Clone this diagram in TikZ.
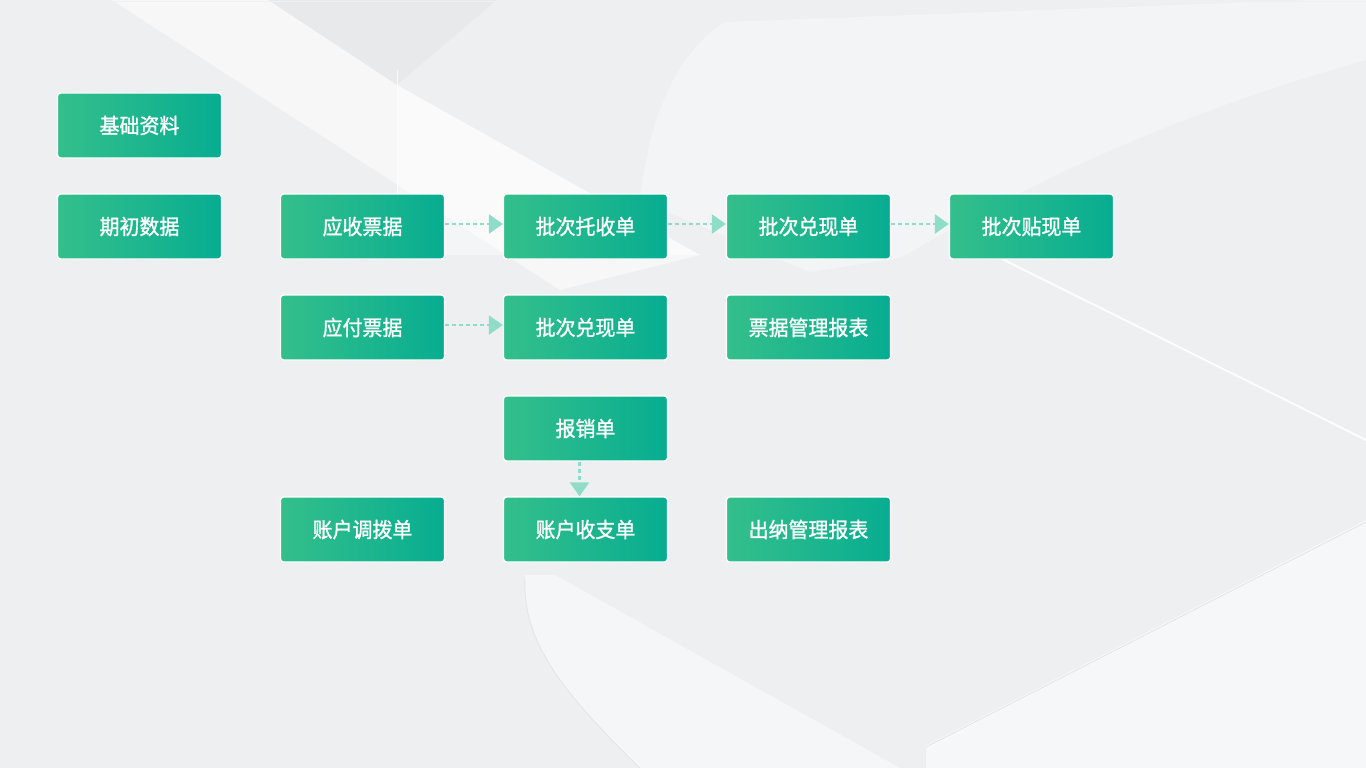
\documentclass[tikz,border=0pt]{standalone}
\usepackage{fontspec}
\newfontfamily\cjk{Noto Sans CJK SC}[FakeBold=1.2,FakeStretch=0.95]
\usetikzlibrary{arrows.meta}
\definecolor{bgc}{HTML}{EEEFF1}
\definecolor{gl}{HTML}{34BF8B}
\definecolor{gr}{HTML}{07AD91}
\definecolor{arr}{HTML}{8FDCC8}
\tikzset{
  box/.style={rectangle, rounded corners=3pt, draw=white, line width=1.4pt,
    left color=gl, right color=gr, minimum width=164pt, minimum height=65pt,
    inner sep=0pt, text=white, font=\cjk\fontsize{21}{24}\selectfont},
  flow/.style={arr, line width=2.6pt, dash pattern=on 4pt off 3pt,
    -{Triangle[length=14pt,width=19pt,fill=arr]}, shorten >=0pt},
}
\begin{document}
\begin{tikzpicture}[x=1pt,y=-1pt]
\useasboundingbox (0,0) rectangle (1366,768);
% background
\fill[bgc] (0,0) rectangle (1366,768);
\fill[white,opacity=0.55] (112,0) -- (268,0) -- (397,85) -- (700,255) -- (560,290) -- cycle;
\fill[black,opacity=0.025] (268,0) -- (497,0) -- (397,85) -- cycle;
\fill[white,opacity=0.4] (397,85) -- (700,255) -- (397,255) -- cycle;
\draw[white,line width=1pt,opacity=0.8] (397,70) -- (397,255);
\fill[white,opacity=0.35] (640,200) .. controls (650,110) and (680,50) .. (725,22) -- (1310,0) -- (1366,0) -- (1366,60) .. controls (1150,120) and (1000,200) .. (900,258) -- (810,272) -- cycle;
\draw[white,line width=2pt,opacity=0.9] (1000,258) -- (1366,440);
\fill[white,opacity=0.45] (525,575) .. controls (522,640) and (560,690) .. (640,768) -- (900,768) -- (555,575) -- cycle;
\draw[black!10,line width=0.8pt] (525,578) .. controls (522,640) and (560,690) .. (640,768);
\fill[white,opacity=0.5] (925,746) -- (1366,520) -- (1366,768) -- (925,768) -- cycle;
\draw[black!12,line width=0.6pt] (926,747) -- (1366,522);
\draw[black!8,line width=0.6pt] (925,747) -- (925,768);
\draw[black!6,line width=0.6pt] (0,1) -- (1366,1);
% boxes
\node[box] (jczl) at (139.5,125.5) {基础资料};
\node[box] (qcsj) at (139.5,226.5) {期初数据};
\node[box] (yspj) at (362.5,226.5) {应收票据};
\node[box] (pcts) at (585.5,226.5) {批次托收单};
\node[box] (pcdx) at (808.5,226.5) {批次兑现单};
\node[box] (pctx) at (1031.5,226.5) {批次贴现单};
\node[box] (yfpj) at (362.5,327.5) {应付票据};
\node[box] (pcdx2) at (585.5,327.5) {批次兑现单};
\node[box] (pjbb) at (808.5,327.5) {票据管理报表};
\node[box] (bxd) at (585.5,428.5) {报销单};
\node[box] (zhdb) at (362.5,529.5) {账户调拨单};
\node[box] (zhsz) at (585.5,529.5) {账户收支单};
\node[box] (cnbb) at (808.5,529.5) {出纳管理报表};
% connectors
\draw[flow] ([yshift=2.5pt]yspj.east) -- ([yshift=2.5pt]pcts.west);
\draw[flow] ([yshift=2.5pt]pcts.east) -- ([yshift=2.5pt]pcdx.west);
\draw[flow] ([yshift=2.5pt]pcdx.east) -- ([yshift=2.5pt]pctx.west);
\draw[flow] ([yshift=2.5pt]yfpj.east) -- ([yshift=2.5pt]pcdx2.west);
\draw[flow] ([xshift=-6pt]bxd.south) -- ([xshift=-6pt]zhsz.north);
\end{tikzpicture}
\end{document}
